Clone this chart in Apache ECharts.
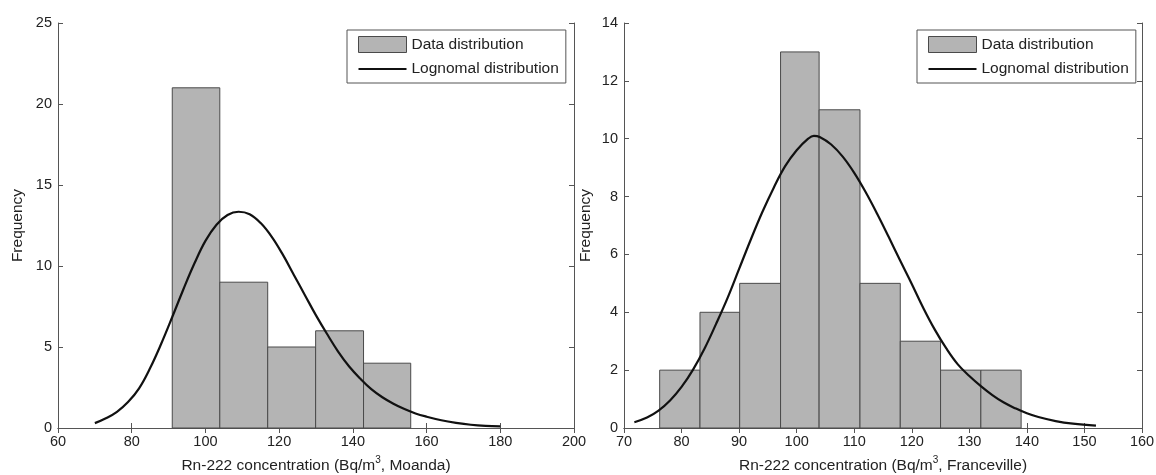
<!DOCTYPE html>
<html>
<head>
<meta charset="utf-8">
<title>Rn-222 histograms</title>
<script src="https://cdn.jsdelivr.net/npm/echarts@6/dist/echarts.min.js"></script>
<style>
  html, body { margin: 0; padding: 0; background: #fff; }
  #chart { width: 1156px; height: 475px; }
</style>
</head>
<body>
<div id="chart"></div>
<script>
// Moanda histogram (bin edges + counts) and fitted curve
const moandaEdges = [91, 103.9, 116.9, 129.9, 142.9, 155.7];
const moandaCounts = [21, 9, 5, 6, 4];
const moandaFitX = [70, 73, 76, 79, 82, 85, 88, 91, 94, 97, 100, 103, 106, 109, 112, 115, 118, 121, 124, 127, 130, 133, 136, 139, 142, 145, 148, 151, 154, 157, 160, 164, 168, 172, 176, 180];
const moandaFitY = [0.3, 0.6, 1.0, 1.6, 2.45, 3.7, 5.2, 6.85, 8.55, 10.15, 11.55, 12.55, 13.15, 13.35, 13.2, 12.65, 11.8, 10.7, 9.45, 8.2, 6.95, 5.8, 4.72, 3.8, 3.05, 2.4, 1.9, 1.5, 1.17, 0.9, 0.7, 0.48, 0.32, 0.2, 0.13, 0.1];

// Franceville histogram and fitted curve
const francevilleEdges = [76.2, 83.2, 90.1, 97.2, 103.9, 111.0, 118.0, 125.0, 132.0, 139.0];
const francevilleCounts = [2, 4, 5, 13, 11, 5, 3, 2, 2];
const francevilleFitX = [71.8, 74, 76, 78, 80, 82, 84, 86, 88, 90, 92, 94, 96, 98, 100, 102, 103, 104, 106, 108, 110, 112, 114, 116, 118, 120, 122, 124, 126, 128, 130, 132, 134, 136, 138, 140, 142, 145, 148, 152];
const francevilleFitY = [0.2, 0.36, 0.6, 0.95, 1.42, 2.02, 2.75, 3.6, 4.5, 5.5, 6.5, 7.45, 8.3, 9.05, 9.6, 10.0, 10.1, 10.06, 9.8, 9.38, 8.82, 8.15, 7.4, 6.6, 5.78, 4.98, 4.15, 3.4, 2.75, 2.2, 1.8, 1.45, 1.14, 0.88, 0.68, 0.51, 0.38, 0.24, 0.15, 0.08];

const barName = 'Data distribution';
const lineName = 'Lognomal distribution';
const txt = '#222';
const axisCol = '#555';
const font = 'Liberation Sans';

function bins(edges, counts) {
  return counts.map((c, i) => [edges[i], edges[i + 1], c]);
}
function pairs(xs, ys) {
  return xs.map((x, i) => [x, ys[i]]);
}

function renderBin(params, api) {
  const p0 = api.coord([api.value(0), api.value(2)]);
  const p1 = api.coord([api.value(1), 0]);
  return {
    type: 'rect',
    shape: { x: p0[0], y: p0[1], width: p1[0] - p0[0], height: p1[1] - p0[1] },
    style: { fill: '#b4b4b4', stroke: '#4a4a4a', lineWidth: 1 }
  };
}

function xTitle(place) {
  return '{t|Rn-222 concentration (Bq/m}{s|3}{t|, ' + place + ')}';
}
const xTitleStyle = {
  rich: {
    t: { fontSize: 15.5, color: txt, fontFamily: font },
    s: { fontSize: 10, color: txt, fontFamily: font, padding: [0, 0, 12, 0] }
  }
};

function mainX(grid, min, max, step, place) {
  return {
    type: 'value', gridIndex: grid, min: min, max: max, interval: step,
    name: xTitle(place), nameLocation: 'middle', nameGap: 27, nameTextStyle: xTitleStyle,
    axisLine: { show: true, lineStyle: { color: axisCol, width: 1 } },
    axisTick: { show: true, inside: true, length: 5, lineStyle: { color: axisCol } },
    axisLabel: { margin: 6, fontSize: 14.5, color: txt, fontFamily: font },
    splitLine: { show: false }
  };
}
function boxX(grid, min, max, step) {
  return {
    type: 'value', gridIndex: grid, position: 'top', min: min, max: max, interval: step,
    axisLine: { show: true, lineStyle: { color: axisCol, width: 1 } },
    axisTick: { show: true, inside: true, length: 5, lineStyle: { color: axisCol } },
    axisLabel: { show: false }, splitLine: { show: false }
  };
}
function mainY(grid, max, step, gap) {
  return {
    type: 'value', gridIndex: grid, min: 0, max: max, interval: step,
    name: 'Frequency', nameLocation: 'middle', nameGap: gap,
    nameTextStyle: { fontSize: 15.5, color: txt, fontFamily: font },
    axisLine: { show: true, lineStyle: { color: axisCol, width: 1 } },
    axisTick: { show: true, inside: true, length: 5, lineStyle: { color: axisCol } },
    axisLabel: { margin: 6, fontSize: 14.5, color: txt, fontFamily: font },
    splitLine: { show: false }
  };
}
function boxY(grid, max, step) {
  return {
    type: 'value', gridIndex: grid, position: 'right', min: 0, max: max, interval: step,
    axisLine: { show: true, lineStyle: { color: axisCol, width: 1 } },
    axisTick: { show: true, inside: true, length: 5, lineStyle: { color: axisCol } },
    axisLabel: { show: false }, splitLine: { show: false }
  };
}
function legendAt(left) {
  return {
    orient: 'vertical', left: left, top: 30,
    padding: [6, 7, 6, 11], itemGap: 8, itemWidth: 48, itemHeight: 16,
    borderColor: '#555', borderWidth: 1, backgroundColor: '#fff',
    selectedMode: false,
    textStyle: { fontSize: 15.5, color: txt, fontFamily: font },
    data: [
      { name: barName, icon: 'rect', itemStyle: { color: '#b4b4b4', borderColor: '#4a4a4a', borderWidth: 1 } },
      { name: lineName, icon: 'path://M0 0H48V2.2H0Z', itemStyle: { color: '#111', borderWidth: 0 } }
    ]
  };
}

const chart = echarts.init(document.getElementById('chart'), null, { renderer: 'canvas' });
chart.setOption({
  animation: false,
  backgroundColor: '#fff',
  grid: [
    { left: 58, right: 582, top: 23, bottom: 47, outerBoundsMode: 'none', containLabel: false },
    { left: 624, right: 14, top: 23, bottom: 47, outerBoundsMode: 'none', containLabel: false }
  ],
  legend: [legendAt(347), legendAt(917)],
  xAxis: [
    mainX(0, 60, 200, 20, 'Moanda'),
    boxX(0, 60, 200, 20),
    mainX(1, 70, 160, 10, 'Franceville'),
    boxX(1, 70, 160, 10)
  ],
  yAxis: [
    mainY(0, 25, 5, 32),
    boxY(0, 25, 5),
    mainY(1, 14, 2, 30),
    boxY(1, 14, 2)
  ],
  series: [
    {
      name: barName, type: 'custom', xAxisIndex: 0, yAxisIndex: 0,
      renderItem: renderBin, data: bins(moandaEdges, moandaCounts),
      itemStyle: { color: '#b4b4b4' }
    },
    {
      name: lineName, type: 'line', xAxisIndex: 0, yAxisIndex: 0,
      data: pairs(moandaFitX, moandaFitY), symbol: 'none', smooth: 0.4,
      lineStyle: { color: '#111', width: 2.2 }, itemStyle: { color: '#111' }, z: 5
    },
    {
      name: barName, type: 'custom', xAxisIndex: 2, yAxisIndex: 2,
      renderItem: renderBin, data: bins(francevilleEdges, francevilleCounts),
      itemStyle: { color: '#b4b4b4' }
    },
    {
      name: lineName, type: 'line', xAxisIndex: 2, yAxisIndex: 2,
      data: pairs(francevilleFitX, francevilleFitY), symbol: 'none', smooth: 0.4,
      lineStyle: { color: '#111', width: 2.2 }, itemStyle: { color: '#111' }, z: 5
    }
  ]
});
</script>
</body>
</html>
